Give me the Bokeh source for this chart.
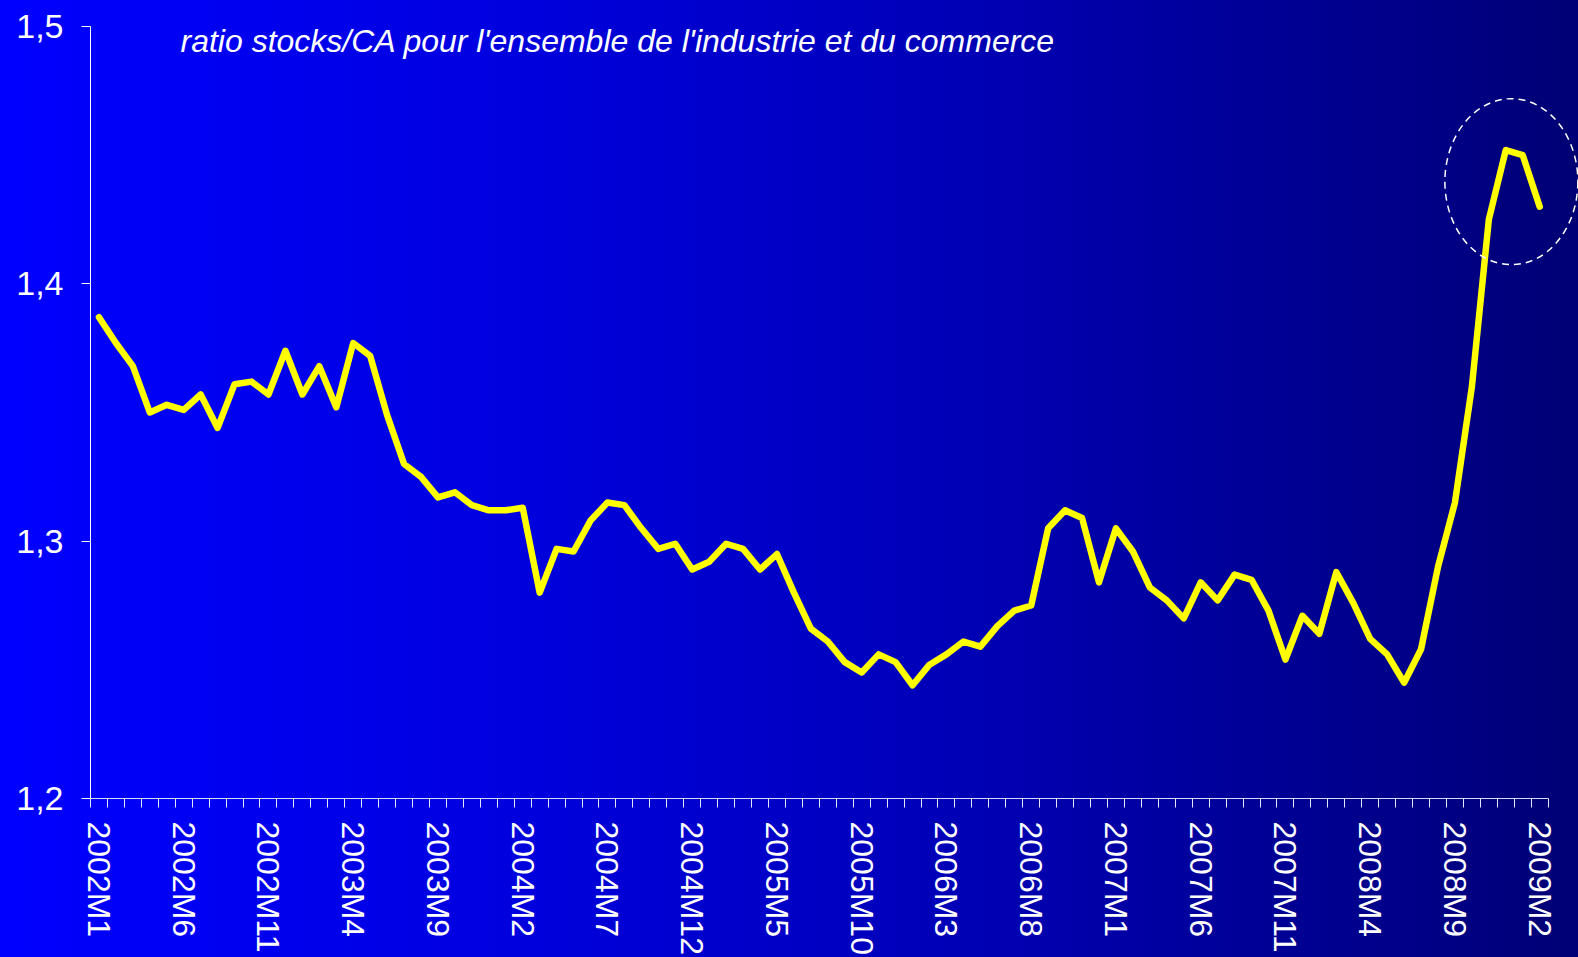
import math
from bokeh.plotting import figure
from bokeh.models import Range1d, FixedTicker, Label
from bokeh.embed import file_html
from bokeh.resources import INLINE

# ratio stocks / chiffre d'affaires, monthly 2002M1 .. 2009M2
ratio = [
    1.387, 1.377, 1.368, 1.350, 1.353, 1.351, 1.357, 1.344, 1.361, 1.362,
    1.357, 1.374, 1.357, 1.368, 1.352, 1.377, 1.372, 1.349, 1.330, 1.325,
    1.317, 1.319, 1.314, 1.312, 1.312, 1.313, 1.280, 1.297, 1.296, 1.308,
    1.315, 1.314, 1.305, 1.297, 1.299, 1.289, 1.292, 1.299, 1.297, 1.289,
    1.295, 1.280, 1.266, 1.261, 1.253, 1.249, 1.256, 1.253, 1.244, 1.252,
    1.256, 1.261, 1.259, 1.267, 1.273, 1.275, 1.305, 1.312, 1.309, 1.284,
    1.305, 1.296, 1.282, 1.277, 1.270, 1.284, 1.277, 1.287, 1.285, 1.273,
    1.254, 1.271, 1.264, 1.288, 1.276, 1.262, 1.256, 1.245, 1.258, 1.290,
    1.315, 1.360, 1.425, 1.452, 1.450, 1.430,
]

x_tick_labels = [
    "2002M1", "2002M6", "2002M11", "2003M4", "2003M9", "2004M2",
    "2004M7", "2004M12", "2005M5", "2005M10", "2006M3", "2006M8",
    "2007M1", "2007M6", "2007M11", "2008M4", "2008M9", "2009M2",
]
label_every = 5

y_ticks = [1.2, 1.3, 1.4, 1.5]
y_tick_labels = ["1,2", "1,3", "1,4", "1,5"]

title_text = "ratio stocks/CA pour l'ensemble de l'industrie et du commerce"

n = len(ratio)
xs = [i + 0.5 for i in range(n)]
label_pos = [i + 0.5 for i in range(0, n, label_every)]

p = figure(
    width=1578, height=957,
    x_range=Range1d(0, 87.79), y_range=Range1d(1.2, 1.5),
    output_backend="svg", toolbar_location=None,
    min_border_left=90, min_border_right=0,
    min_border_top=26, min_border_bottom=155,
)
p.background_fill_alpha = 0
p.border_fill_alpha = 0
p.outline_line_color = None
p.grid.visible = False
p.styles = {
    "background": "linear-gradient(to right, #0000FF 0%, #0000DF 32%, #0000BC 57%, #000096 80%, #000084 92%, #000074 100%)"
}

# x axis
xa = p.xaxis[0]
xa.ticker = FixedTicker(ticks=label_pos, minor_ticks=list(range(n + 1)))
xa.major_label_overrides = {pos: lab for pos, lab in zip(label_pos, x_tick_labels)}
xa.major_label_orientation = -math.pi / 2
xa.major_tick_out = 0
xa.major_tick_in = 0
xa.minor_tick_out = 9
xa.minor_tick_in = 0
xa.minor_tick_line_color = "#E6E6FF"
xa.axis_line_color = "#D8D8FF"
xa.bounds = (0, n)
xa.major_label_text_color = "white"
xa.major_label_text_font = "Liberation Sans"
xa.major_label_text_font_size = "32px"
xa.major_label_standoff = 14

# y axis
ya = p.yaxis[0]
ya.ticker = FixedTicker(ticks=y_ticks)
ya.major_label_overrides = {t: s for t, s in zip(y_ticks, y_tick_labels)}
ya.major_tick_out = 9
ya.major_tick_in = 0
ya.minor_tick_out = 0
ya.minor_tick_in = 0
ya.major_tick_line_color = "white"
ya.axis_line_color = "white"
ya.major_label_text_color = "white"
ya.major_label_text_font = "Liberation Sans"
ya.major_label_text_font_size = "34px"
ya.major_label_standoff = 18

# data line
p.line(xs, ratio, line_color="#FFFF00", line_width=6.5,
       line_join="round", line_cap="round")

# dashed highlight around the last months
p.ellipse(x=[83.83], y=[1.4397], width=133, height=166,
          width_units="screen", height_units="screen",
          fill_alpha=0, line_color="white", line_width=1.5, line_dash="7 5")

p.add_layout(Label(x=5.31, y=1.4945, text=title_text, text_color="white",
                   text_font="Liberation Sans", text_font_style="italic",
                   text_font_size="32px", text_align="left",
                   text_baseline="alphabetic"))

open("out.html", "w").write(file_html(p, INLINE))
